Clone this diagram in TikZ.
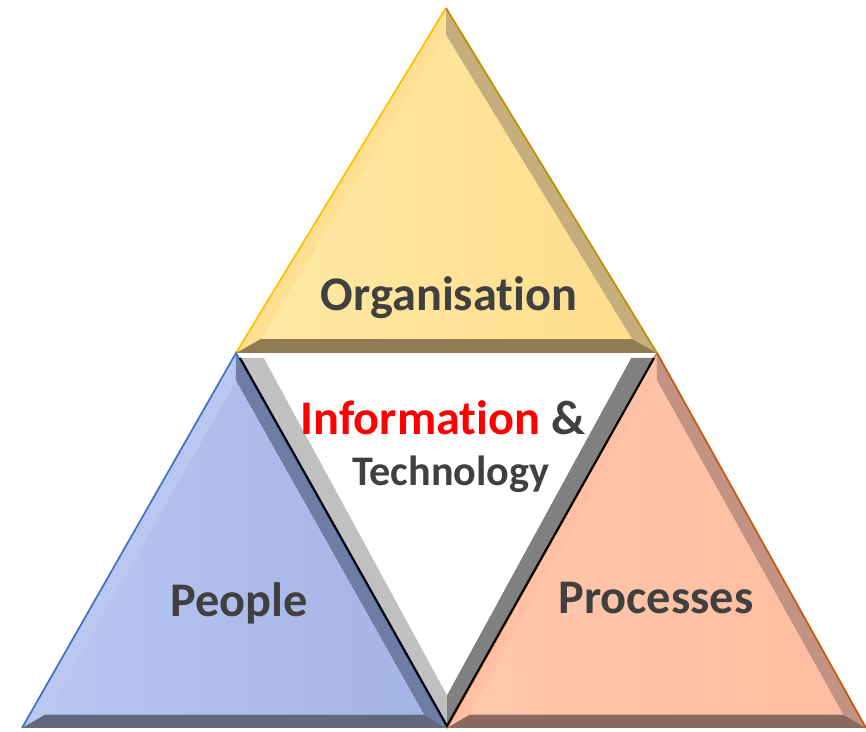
\documentclass[tikz,border=0pt]{standalone}
\usepackage{fontspec}
\setmainfont{Carlito}[Ligatures=NoCommon]
\usetikzlibrary{positioning,calc}
\definecolor{txtgrey}{HTML}{404040}

\begin{document}
\begin{tikzpicture}[x=0.02cm,y=-0.02cm]

	\tikzstyle{label} = [font=\fontsize{27.5}{33}\selectfont\bfseries,text=txtgrey,inner sep=0pt]
	\tikzstyle{face} = [line join=round]

	\useasboundingbox (0,0) rectangle (866,732);

	% organisation (top)
	\coordinate (oa) at (446,8);
	\coordinate (ob) at (236,353);
	\coordinate (oc) at (657,353);
	\coordinate (oi) at (446.5,234.8);
	\coordinate (oa2) at ($(oi)!0.88!(oa)$);
	\coordinate (ob2) at ($(oi)!0.88!(ob)$);
	\coordinate (oc2) at ($(oi)!0.88!(oc)$);
	\fill[face,color={rgb,255:red,255;green,223;blue,146}] (oa) -- (ob) -- (ob2) -- (oa2) -- cycle;
	\fill[face,color={rgb,255:red,197;green,174;blue,124}] (oa) -- (oc) -- (oc2) -- (oa2) -- cycle;
	\fill[face,color={rgb,255:red,143;green,124;blue,84}] (ob) -- (oc) -- (oc2) -- (ob2) -- cycle;
	\shade[left color={rgb,255:red,255;green,232;blue,164},right color={rgb,255:red,255;green,222;blue,140}] (oa2) -- (ob2) -- (oc2) -- cycle;
	\draw[line width=1pt,color={rgb,255:red,255;green,192;blue,0}] (ob) -- (oa);
	\draw[line width=1pt,color={rgb,255:red,191;green,144;blue,0}] (oa) -- (oc);

	% people (left)
	\coordinate (pa) at (236,353);
	\coordinate (pb) at (22,728);
	\coordinate (pc) at (447,728);
	\coordinate (pi) at (235.2,604.2);
	\coordinate (pa2) at ($(pi)!0.89!(pa)$);
	\coordinate (pb2) at ($(pi)!0.89!(pb)$);
	\coordinate (pc2) at ($(pi)!0.89!(pc)$);
	\fill[face,color={rgb,255:red,186;green,199;blue,240}] (pa) -- (pb) -- (pb2) -- (pa2) -- cycle;
	\fill[face,color={rgb,255:red,111;green,125;blue,165}] (pa) -- (pc) -- (pc2) -- (pa2) -- cycle;
	\fill[face,color={rgb,255:red,96;green,104;blue,128}] (pb) -- (pc) -- (pc2) -- (pb2) -- cycle;
	\shade[left color={rgb,255:red,184;green,198;blue,242},right color={rgb,255:red,164;green,180;blue,228}] (pa2) -- (pb2) -- (pc2) -- cycle;
	\draw[line width=1pt,color={rgb,255:red,68;green,114;blue,196}] (pb) -- (pa) -- (pc);

	% processes (right)
	\coordinate (ra) at (657,353);
	\coordinate (rb) at (447,728);
	\coordinate (rc) at (866,728);
	\coordinate (ri) at (656.5,604.2);
	\coordinate (ra2) at ($(ri)!0.89!(ra)$);
	\coordinate (rb2) at ($(ri)!0.89!(rb)$);
	\coordinate (rc2) at ($(ri)!0.89!(rc)$);
	\fill[face,color={rgb,255:red,255;green,192;blue,165}] (ra) -- (rb) -- (rb2) -- (ra2) -- cycle;
	\fill[face,color={rgb,255:red,194;green,147;blue,130}] (ra) -- (rc) -- (rc2) -- (ra2) -- cycle;
	\fill[face,color={rgb,255:red,138;green,106;blue,94}] (rb) -- (rc) -- (rc2) -- (rb2) -- cycle;
	\shade[left color={rgb,255:red,255;green,200;blue,172},right color={rgb,255:red,255;green,188;blue,160}] (ra2) -- (rb2) -- (rc2) -- cycle;
	\draw[line width=1pt,color={rgb,255:red,237;green,125;blue,49}] (rb) -- (ra);
	\draw[line width=1pt,color={rgb,255:red,197;green,90;blue,17}] (ra) -- (rc);

	% information & technology (centre)
	\coordinate (ca) at (240,358);
	\coordinate (cb) at (654,358);
	\coordinate (cc) at (447,726);
	\coordinate (ca2) at (264,358);
	\coordinate (cb2) at (631,358);
	\coordinate (cc2) at (447,695);
	\fill[color={rgb,255:red,192;green,192;blue,192}] (ca) -- (cc) -- (cc2) -- (ca2) -- cycle;
	\fill[color={rgb,255:red,128;green,128;blue,128}] (cb) -- (cc) -- (cc2) -- (cb2) -- cycle;
	\fill[white] (ca2) -- (cb2) -- (cc2) -- cycle;
	\draw[line width=1.2pt,black] (ca) -- (cc) -- (cb);

	% labels
	\node[label] (org) at (449,298) {Organisation};
	\node[label] (info) at (443,418) {\textcolor{red}{Information} \&};
	\node[label,font=\fontsize{24}{29}\selectfont\bfseries] (tech) at (451,474) {Technology};
	\node[label] (ppl) at (239,603) {People};
	\node[label] (proc) at (656,598) {Processes};

\end{tikzpicture}
\end{document}
